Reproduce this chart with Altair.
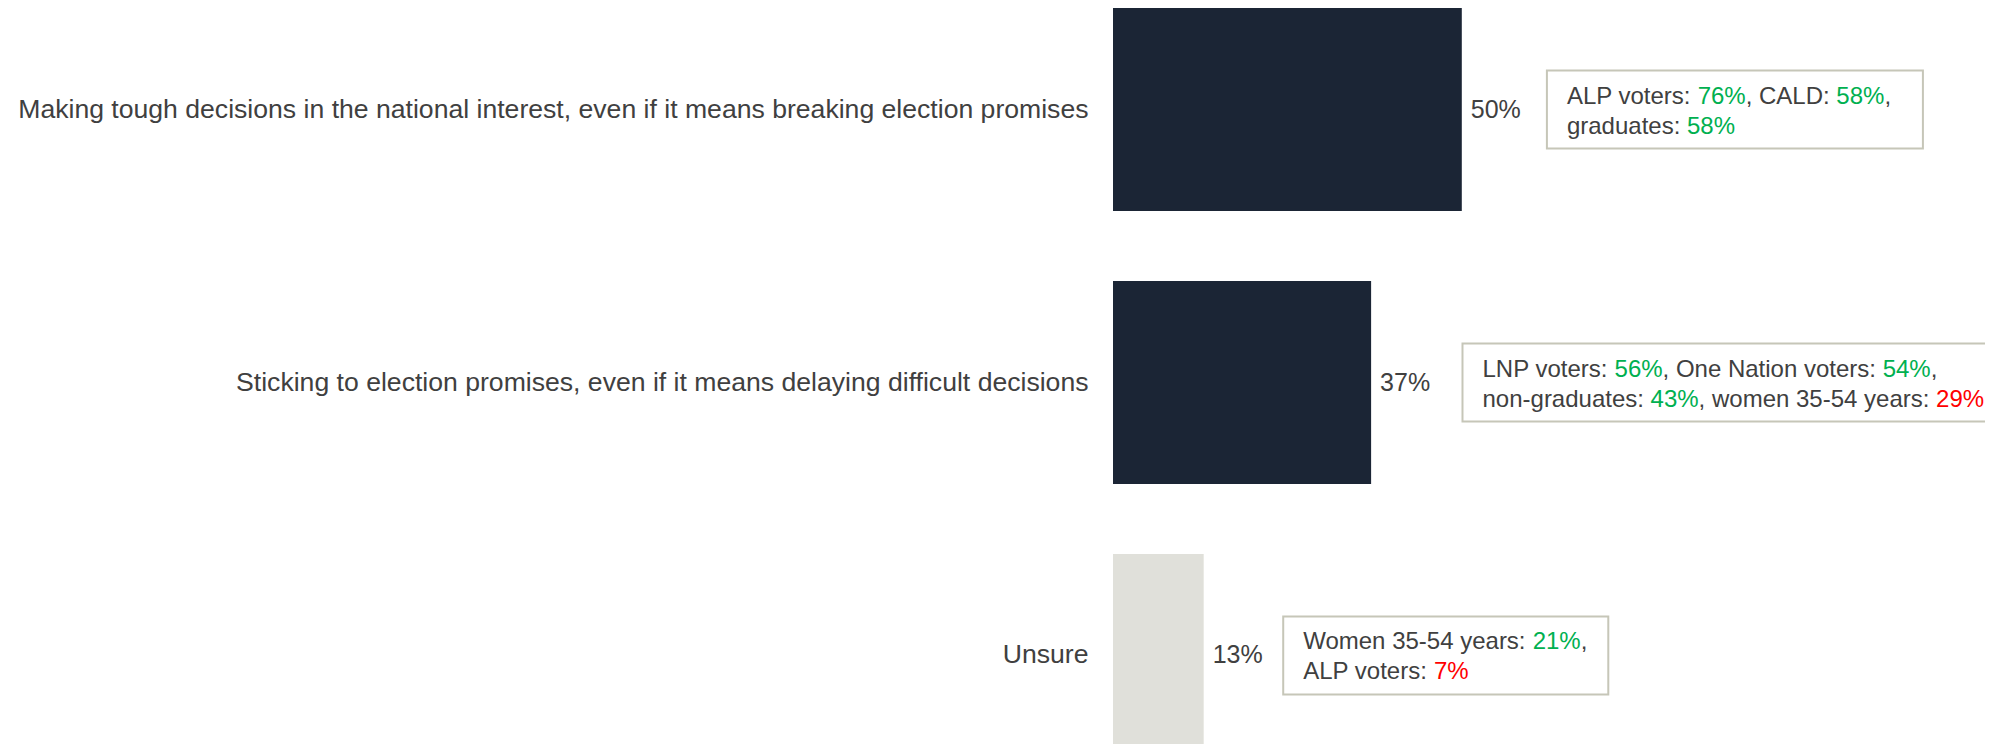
import altair as alt
import pandas as pd

# ---------------- data ----------------
categories = [
    "Making tough decisions in the national interest, even if it means breaking election promises",
    "Sticking to election promises, even if it means delaying difficult decisions",
    "Unsure",
]
values = [50, 37, 13]
bar_colors = ["#1B2535", "#1B2535", "#E0E0DA"]

# call-out boxes: subgroup names, their values, above/below average, text line
callout_groups = [
    ["ALP voters", "CALD", "graduates"],
    ["LNP voters", "One Nation voters", "non-graduates", "women 35-54 years"],
    ["Women 35-54 years", "ALP voters"],
]
callout_values = [[76, 58, 58], [56, 54, 43, 29], [21, 7]]
callout_signs = [["up", "up", "up"], ["up", "up", "up", "down"], ["up", "down"]]
callout_lines = [[0, 0, 1], [0, 0, 1, 1], [0, 1]]
box_start = [62.2, 50.1, 24.4]   # box anchors, in x-scale units (%)
box_end = [116.1, 130.0, 71.0]

# ---------------- styling / layout ----------------
GREY = "#404040"
GREEN = "#00B050"
RED = "#FF0000"
BOX_STROKE = "#C6C6B8"
FONT = "Liberation Sans"
X_MAX = 125
PLOT_W = 872
PLOT_H = 736
PX = PLOT_W / X_MAX
BOX_FONT = 24
BOX_PAD = 20

# Arial / Liberation Sans advance widths (1/1000 em)
W = {" ": 278, "%": 889, ",": 278, "-": 333, ".": 278, ":": 278}
for d in "0123456789":
    W[d] = 556
W.update(dict(A=667, B=667, C=722, D=722, E=667, F=611, G=778, H=722, I=278, J=500,
              K=667, L=556, M=833, N=722, O=778, P=667, Q=778, R=722, S=667, T=611,
              U=722, V=667, W=944, X=667, Y=667, Z=611))
W.update(dict(a=556, b=556, c=500, d=556, e=556, f=278, g=556, h=556, i=222, j=222,
              k=500, l=222, m=833, n=556, o=556, p=556, q=556, r=333, s=500, t=278,
              u=556, v=500, w=722, x=500, y=500, z=500))


def text_width(s, size):
    return sum(W.get(ch, 556) for ch in s) * size / 1000.0


bars = pd.DataFrame({"cat": categories, "value": values, "color": bar_colors,
                     "label": [f"{v}%" for v in values]})
boxes = pd.DataFrame({"cat": categories, "x0": box_start, "x1": box_end})

rows = []
for i, cat in enumerate(categories):
    items = list(zip(callout_groups[i], callout_values[i], callout_signs[i], callout_lines[i]))
    cursor = {0: 0.0, 1: 0.0}
    for j, (g, v, s, ln) in enumerate(items):
        pieces = []
        if j > 0 and items[j - 1][3] == ln:
            pieces.append((" ", GREY))
        pieces.append((g + ": ", GREY))
        pieces.append((f"{v}%", GREEN if s == "up" else RED))
        if j < len(items) - 1:
            pieces.append((",", GREY))
        for txt, col in pieces:
            if txt.strip():
                rows.append({"cat": cat, "line": ln, "text": txt, "color": col,
                             "xpos": box_start[i] + (BOX_PAD + cursor[ln]) / PX})
            cursor[ln] += text_width(txt, BOX_FONT)
segs = pd.DataFrame(rows)

yenc = alt.Y(
    "cat:N",
    sort=categories,
    scale=alt.Scale(range=[0, 749], paddingInner=0.2564, paddingOuter=0),
    axis=alt.Axis(title=None, domain=False, ticks=False, labelFontSize=26.6,
                  labelColor=GREY, labelPadding=25, labelLimit=2000, labelFont=FONT),
)
xscale = alt.Scale(domain=[0, X_MAX], nice=False, zero=True)

bar_layer = alt.Chart(bars).mark_bar(clip=True).encode(
    x=alt.X("value:Q", scale=xscale, axis=None),
    y=yenc,
    color=alt.Color("color:N", scale=None),
)
val_layer = alt.Chart(bars).mark_text(align="left", baseline="middle", dx=9,
                                      fontSize=25, color=GREY, font=FONT).encode(
    x=alt.X("value:Q", scale=xscale, axis=None),
    y=yenc,
    text="label:N",
)
box_layer = alt.Chart(boxes).mark_bar(size=78, fill="white", stroke=BOX_STROKE,
                                      strokeWidth=2, clip=True).encode(
    x=alt.X("x0:Q", scale=xscale, axis=None),
    x2="x1:Q",
    y=yenc,
)
line0 = alt.Chart(segs).transform_filter("datum.line == 0").mark_text(
    align="left", baseline="alphabetic", dy=-6, fontSize=BOX_FONT, font=FONT).encode(
    x=alt.X("xpos:Q", scale=xscale, axis=None),
    y=yenc,
    text="text:N",
    color=alt.Color("color:N", scale=None),
)
line1 = alt.Chart(segs).transform_filter("datum.line == 1").mark_text(
    align="left", baseline="alphabetic", dy=24, fontSize=BOX_FONT, font=FONT).encode(
    x=alt.X("xpos:Q", scale=xscale, axis=None),
    y=yenc,
    text="text:N",
    color=alt.Color("color:N", scale=None),
)

chart = alt.layer(bar_layer, val_layer, box_layer, line0, line1).properties(
    width=PLOT_W,
    height=PLOT_H,
    autosize=alt.AutoSizeParams(type="none"),
    padding={"left": 1105, "top": 0, "right": 0, "bottom": 0},
    background="white",
).configure_view(stroke=None)

chart.save("out.html", embed_options={"renderer": "svg", "actions": False})
